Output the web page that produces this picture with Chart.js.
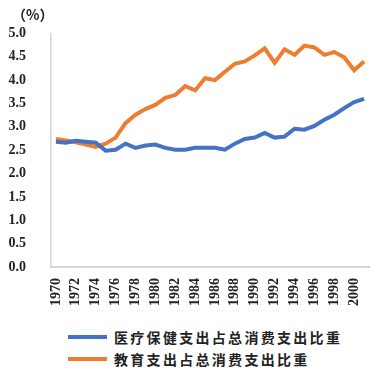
<!DOCTYPE html>
<html>
<head>
<meta charset="utf-8">
<script src="https://cdn.jsdelivr.net/npm/chart.js@4"></script>
<style>
  html, body { margin: 0; padding: 0; background: #fff; }
  #wrap { position: relative; width: 392px; height: 372px; }
  #chartBox { position: absolute; left: 0; top: 0; width: 392px; height: 316px; }
  #unit { position: absolute; left: 12px; top: 4px; font: 700 14px "Noto Sans CJK SC", sans-serif; color: #222; }
  #legend { position: absolute; left: 68px; top: 326px; }
  .item { display: flex; align-items: center; height: 22px; }
  .swatch { width: 39px; height: 4px; margin-right: 7px; }
  .label { font: 700 14px "Noto Sans CJK SC", sans-serif; letter-spacing: 2.3px; color: #222; }
</style>
</head>
<body>
<div id="wrap">
  <div id="chartBox"><canvas id="shareChart" width="392" height="316"></canvas></div>
  <div id="unit">（%）</div>
  <div id="legend"></div>
</div>
<script>
const years = ['1970', '1971', '1972', '1973', '1974', '1975', '1976', '1977', '1978', '1979',
  '1980', '1981', '1982', '1983', '1984', '1985', '1986', '1987', '1988', '1989',
  '1990', '1991', '1992', '1993', '1994', '1995', '1996', '1997', '1998', '1999',
  '2000', '2001'];

// 医疗保健支出占总消费支出比重 (%)
const healthShare = [2.68, 2.66, 2.70, 2.68, 2.66, 2.49, 2.51, 2.64, 2.55, 2.60,
  2.62, 2.55, 2.51, 2.51, 2.55, 2.55, 2.55, 2.51, 2.64, 2.74,
  2.77, 2.87, 2.77, 2.79, 2.96, 2.94, 3.02, 3.15, 3.26, 3.40,
  3.53, 3.60];

// 教育支出占总消费支出比重 (%)
const educationShare = [2.74, 2.71, 2.67, 2.62, 2.57, 2.64, 2.77, 3.08, 3.26, 3.38,
  3.47, 3.62, 3.68, 3.87, 3.78, 4.04, 4.00, 4.18, 4.35, 4.40,
  4.53, 4.68, 4.37, 4.66, 4.54, 4.74, 4.70, 4.54, 4.60, 4.49,
  4.21, 4.40];

const seriesNames = ['医疗保健支出占总消费支出比重', '教育支出占总消费支出比重'];
const seriesColors = ['#4472C4', '#ED7D31'];

const tickFont = { family: '"Liberation Serif", serif', size: 14, weight: 'bold' };

const ctx = document.getElementById('shareChart').getContext('2d');
const shareChart = new Chart(ctx, {
  type: 'line',
  data: {
    labels: years,
    datasets: [
      { label: seriesNames[0], data: healthShare, borderColor: seriesColors[0], backgroundColor: seriesColors[0] },
      { label: seriesNames[1], data: educationShare, borderColor: seriesColors[1], backgroundColor: seriesColors[1] }
    ]
  },
  options: {
    responsive: false,
    animation: false,
    layout: { padding: { top: 33, right: 7, bottom: 8, left: 0 } },
    elements: {
      line: { borderWidth: 4, tension: 0, borderCapStyle: 'butt', borderJoinStyle: 'miter' },
      point: { radius: 0 }
    },
    plugins: {
      legend: { display: false },
      tooltip: { enabled: false }
    },
    scales: {
      x: {
        offset: true,
        grid: { display: false, drawTicks: false },
        border: { display: true, color: '#d4d4d4', width: 2 },
        ticks: {
          autoSkip: false,
          maxRotation: 90,
          minRotation: 90,
          padding: 11,
          color: '#222',
          font: tickFont,
          callback: (v, i) => (i % 2 === 0 ? years[i] : '')
        },
        afterFit: (scale) => { scale.height = 41; }
      },
      y: {
        min: 0,
        max: 5,
        grid: { display: false, drawTicks: false },
        border: { display: true, color: '#d4d4d4', width: 1.5 },
        ticks: {
          stepSize: 0.5,
          padding: 25,
          color: '#222',
          font: tickFont,
          callback: (v) => v.toFixed(1)
        },
        afterFit: (scale) => { scale.width = 51; }
      }
    }
  }
});

// legend built from the chart datasets, stacked in two rows
const legendEl = document.getElementById('legend');
shareChart.data.datasets.forEach((ds) => {
  const row = document.createElement('div');
  row.className = 'item';
  const sw = document.createElement('span');
  sw.className = 'swatch';
  sw.style.background = ds.borderColor;
  const txt = document.createElement('span');
  txt.className = 'label';
  txt.textContent = ds.label;
  row.appendChild(sw);
  row.appendChild(txt);
  legendEl.appendChild(row);
});
</script>
</body>
</html>
